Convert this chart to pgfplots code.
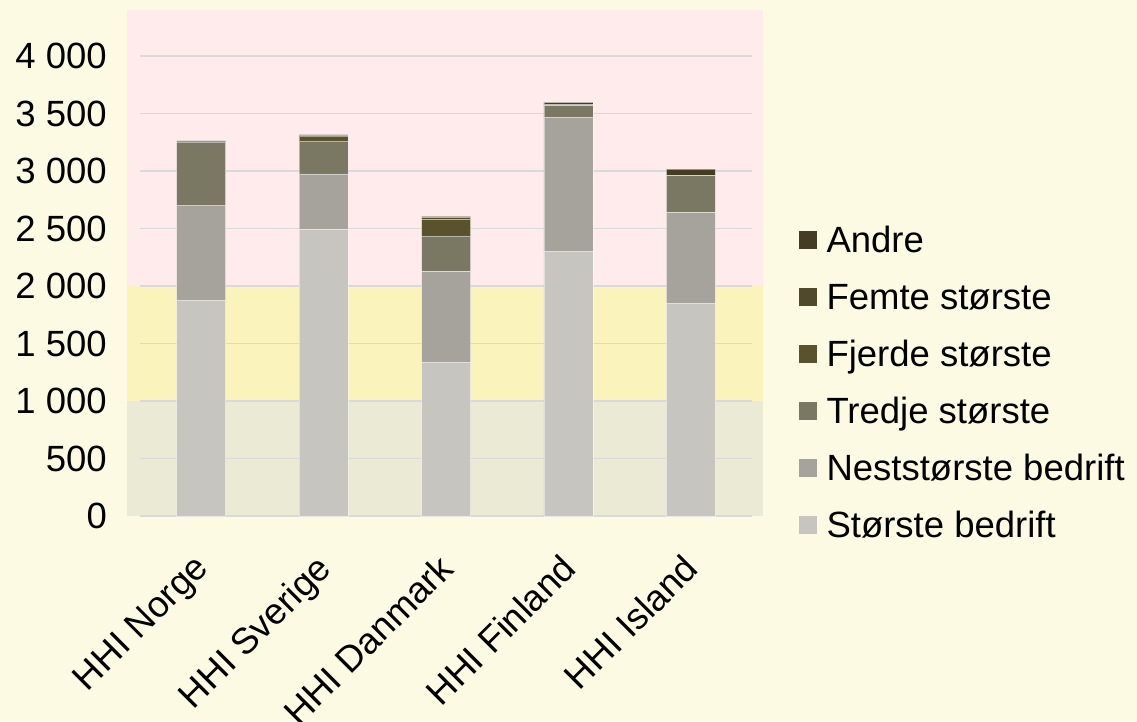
\documentclass[border=0pt]{standalone}
\usepackage{pgfplots}
\pgfplotsset{compat=1.18}
\usepackage{fontspec}
\setmainfont{Liberation Sans}

\definecolor{bgpage}{RGB}{253,250,228}
\definecolor{bandpink}{RGB}{255,234,236}
\definecolor{bandyellow}{RGB}{250,244,188}
\definecolor{bandgreen}{RGB}{234,234,213}
\definecolor{gridgray}{RGB}{217,217,217}
\definecolor{cA}{RGB}{198,197,192}
\definecolor{cB}{RGB}{165,163,155}
\definecolor{cC}{RGB}{122,120,98}
\definecolor{cD}{RGB}{90,82,45}
\definecolor{cE}{RGB}{80,73,42}
\definecolor{cF}{RGB}{68,61,36}

% segments of each stacked bar: 0 Norge, 1 Sverige, 2 Danmark, 3 Finland, 4 Island
\pgfplotstableread{
x  storst nest tredje fjerde femte andre
0  1878   826  549    6      3     3
1  2493   481  287    43     6     6
2  1339   785  311    145    17    9
3  2304   1159 105    4      4     20
4  1852   785  322    3      3     52
}\hhi

\pgfplotsset{
  common/.style={
    scale only axis, width=612pt, height=506pt,
    xmin=-0.5, xmax=4.5, ymin=0, ymax=4400,
    at={(140pt,205pt)}, anchor=south west,
  },
}

\begin{document}
\begin{tikzpicture}[x=1pt,y=1pt]
\fill[bgpage] (0,0) rectangle (1137,721);
\useasboundingbox (0,0) rectangle (1137,721);

% background bands
\begin{axis}[common, hide axis, clip=false]
  \addplot[fill=bandpink, draw=none] coordinates {(-0.606,4400) (4.59,4400)} \closedcycle;
  \addplot[fill=bandyellow, draw=none] coordinates {(-0.606,2000) (4.59,2000)} \closedcycle;
  \addplot[fill=bandgreen, draw=none] coordinates {(-0.606,1000) (4.59,1000)} \closedcycle;
\end{axis}

\begin{axis}[common,
  ybar stacked, bar width=49pt,
  font=\fontsize{36.5}{43}\selectfont,
  axis line style={draw=none},
  axis x line*=bottom, axis y line*=left,
  x axis line style={draw=gridgray, line width=1.8pt},
  y axis line style={draw=none},
  ymajorgrids, grid style={gridgray, line width=1.8pt},
  major tick length=0pt,
  ytick={0,500,...,4000},
  xtick={0,1,2,3,4},
  xticklabels={HHI Norge,HHI Sverige,HHI Danmark,HHI Finland,HHI Island},
  yticklabel style={inner sep=0pt, xshift=-33pt},
  xticklabel style={rotate=45, anchor=north east, inner sep=0pt, xshift=-32pt, yshift=-19pt},
  /pgf/number format/.cd, assume math mode=true, 1000 sep={\ },
  /pgfplots/.cd,
  every axis plot/.append style={draw=white, draw opacity=0.45, line width=0.8pt},
  legend style={at={(1.0718,0.578)}, anchor=north west, draw=none, fill=none,
    row sep=22pt, column sep=0pt, font=\fontsize{36.5}{43}\selectfont,
    nodes={inner sep=0pt, anchor=west, text height=27pt, text depth=8pt}},
  reverse legend,
  legend image code/.code={\fill[#1, draw=none] (0pt,-6pt) rectangle (18pt,12pt); \path (27pt,0pt);},
]
  \addplot[fill=cA] table[x=x, y=storst] {\hhi};
  \addplot[fill=cB] table[x=x, y=nest] {\hhi};
  \addplot[fill=cC] table[x=x, y=tredje] {\hhi};
  \addplot[fill=cD] table[x=x, y=fjerde] {\hhi};
  \addplot[fill=cE] table[x=x, y=femte] {\hhi};
  \addplot[fill=cF] table[x=x, y=andre] {\hhi};
  \legend{Største bedrift, Neststørste bedrift, Tredje største, Fjerde største, Femte største, Andre}
\end{axis}
\end{tikzpicture}
\end{document}
